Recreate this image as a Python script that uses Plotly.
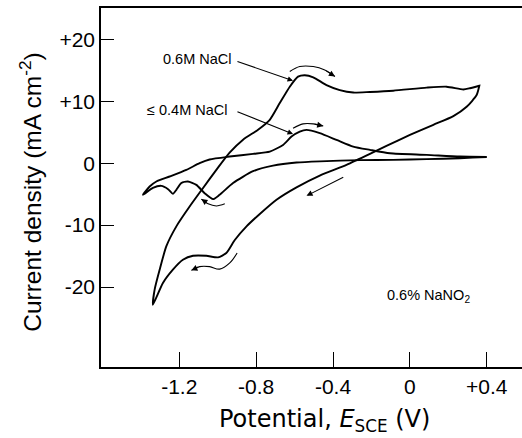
import plotly.graph_objects as go

# ---- data ----
# 0.6 M NaCl cyclic voltammogram: anodic sweep then return sweep
a_x_fwd = [-1.337, -1.328, -1.302, -1.267, -1.215, -1.146, -1.076, -1.007, -0.938, -0.868,
           -0.79, -0.729, -0.677, -0.625, -0.582, -0.547, -0.503, -0.434, -0.365, -0.295,
           -0.208, -0.087, 0.087, 0.191, 0.278, 0.312, 0.361]
a_y_fwd = [-22.85, -20.4, -17.2, -13.4, -10.2, -7.0, -4.0, -1.08, 1.7, 3.8,
           5.4, 7.0, 9.7, 12.35, 13.97, 14.2, 13.87, 12.6, 11.8, 11.4,
           11.5, 11.7, 12.2, 12.35, 11.9, 12.1, 12.5]
a_x_rev = [0.361, 0.347, 0.295, 0.226, 0.122, 0.0, -0.122, -0.208, -0.33, -0.469,
           -0.59, -0.694, -0.781, -0.85, -0.911, -0.955, -0.998, -1.059, -1.128, -1.181,
           -1.233, -1.285, -1.337]
a_y_rev = [12.5, 11.0, 9.1, 7.6, 6.2, 4.56, 2.8, 1.5, -0.27, -2.0,
           -3.9, -5.9, -8.2, -10.2, -12.4, -14.5, -15.2, -14.95, -14.95, -15.6,
           -17.2, -19.35, -22.85]

# <= 0.4 M NaCl cyclic voltammogram
b_x_fwd = [-1.389, -1.354, -1.319, -1.25, -1.163, -1.094, -1.042, -0.938, -0.816, -0.729,
           -0.66, -0.616, -0.573, -0.538, -0.469, -0.382, -0.295, -0.208, -0.104, 0.087,
           0.26, 0.4]
b_y_fwd = [-5.1, -3.77, -2.96, -2.15, -1.08, 0.0, 0.6, 1.07, 1.5, 1.87,
           2.95, 4.3, 5.1, 5.37, 4.84, 3.76, 2.68, 2.15, 1.6, 1.34,
           1.07, 1.0]
b_x_rev = [0.4, 0.26, 0.087, -0.087, -0.26, -0.469, -0.59, -0.712, -0.816, -0.92,
           -0.99, -1.024, -1.068, -1.111, -1.155, -1.189, -1.215, -1.233, -1.258, -1.293,
           -1.337, -1.389]
b_y_rev = [1.0, 0.8, 0.65, 0.53, 0.5, 0.3, 0.1, -0.4, -1.3, -3.2,
           -5.1, -5.8, -4.84, -3.5, -2.96, -3.2, -4.3, -4.95, -4.2, -3.66,
           -4.0, -5.1]

# sweep-direction arrows (curved)
dir1_x = [-0.625, -0.573, -0.503, -0.443, -0.39]
dir1_y = [14.8, 15.6, 15.6, 15.05, 14.0]
dir2_x = [-0.608, -0.556, -0.503, -0.451]
dir2_y = [5.65, 6.34, 6.34, 6.0]
dir3_x = [-0.963, -1.007, -1.05, -1.085]
dir3_y = [-6.56, -6.9, -6.56, -5.8]
dir4_x = [-0.899, -0.937, -0.99, -1.042, -1.094, -1.137]
dir4_y = [-14.5, -16.1, -17.1, -16.7, -16.7, -17.3]
dir5_x = [-0.339, -0.538]
dir5_y = [-2.15, -5.27]

x_tickvals = [-1.2, -0.8, -0.4, 0, 0.4]
x_ticktext = ["-1.2", "-0.8", "-0.4", "0", "+0.4"]
y_tickvals = [20, 10, 0, -10, -20]
y_ticktext = ["+20", "+10", "0", "-10", "-20"]

FONT = "Liberation Sans, Arial, sans-serif"
FONT_X = "DejaVu Sans, sans-serif"
LINE = dict(color="black", width=1.9)
THIN = dict(color="black", width=1.1)

fig = go.Figure()
fig.add_trace(go.Scatter(x=a_x_fwd + a_x_rev, y=a_y_fwd + a_y_rev, mode="lines",
                         line=dict(shape="spline", smoothing=0.6, **LINE), hoverinfo="skip"))
fig.add_trace(go.Scatter(x=b_x_fwd + b_x_rev, y=b_y_fwd + b_y_rev, mode="lines",
                         line=dict(shape="spline", smoothing=0.6, **LINE), hoverinfo="skip"))
for dx, dy in [(dir1_x, dir1_y), (dir2_x, dir2_y), (dir3_x, dir3_y), (dir4_x, dir4_y)]:
    fig.add_trace(go.Scatter(x=dx, y=dy, mode="lines",
                             line=dict(shape="spline", **THIN), hoverinfo="skip"))

annotations = []
# arrowheads on direction curves
for dx, dy in [(dir1_x, dir1_y), (dir2_x, dir2_y), (dir3_x, dir3_y), (dir4_x, dir4_y), (dir5_x, dir5_y)]:
    annotations.append(dict(x=dx[-1], y=dy[-1], ax=dx[-2], ay=dy[-2], xref="x", yref="y",
                            axref="x", ayref="y", text="", showarrow=True, arrowhead=2,
                            arrowsize=1.1, arrowwidth=1.1, arrowcolor="black"))

# labels with pointer arrows
annotations.append(dict(x=-0.608, y=13.3, ax=-0.905, ay=16.5, xref="x", yref="y", axref="x", ayref="y",
                        text="", showarrow=True, arrowhead=2, arrowsize=1, arrowwidth=1.1,
                        arrowcolor="black"))
annotations.append(dict(x=-0.608, y=4.7, ax=-0.905, ay=8.4, xref="x", yref="y", axref="x", ayref="y",
                        text="", showarrow=True, arrowhead=2, arrowsize=1, arrowwidth=1.1,
                        arrowcolor="black"))
annotations.append(dict(x=-1.105, y=16.8, xref="x", yref="y", text="0.6M NaCl", showarrow=False,
                        font=dict(family=FONT, size=14.5, color="black")))
annotations.append(dict(x=-1.16, y=8.6, xref="x", yref="y", text="≤ 0.4M NaCl", showarrow=False,
                        font=dict(family=FONT, size=14.5, color="black")))
annotations.append(dict(x=0.097, y=-21.5, xref="x", yref="y", text="0.6% NaNO<sub>2</sub>",
                        showarrow=False, font=dict(family=FONT, size=14.5, color="black")))

# axis titles
annotations.append(dict(x=-0.168, y=0.486, xref="paper", yref="paper", textangle=-90,
                        text="Current density (mA cm<sup>-2</sup>)", showarrow=False,
                        xanchor="center", yanchor="middle",
                        font=dict(family=FONT, size=24.5, color="black")))
annotations.append(dict(x=0.532, y=-0.148, xref="paper", yref="paper",
                        text="Potential, <i>E</i><sub>SCE</sub> (V)", showarrow=False,
                        xanchor="center", yanchor="middle",
                        font=dict(family=FONT_X, size=24, color="black")))

fig.update_layout(
    width=522, height=438,
    margin=dict(l=101, r=0, t=8, b=71),
    paper_bgcolor="white", plot_bgcolor="white",
    showlegend=False,
    annotations=annotations,
    font=dict(family=FONT, size=21, color="black"),
)
fig.update_xaxes(range=[-1.607, 0.583], showgrid=False, zeroline=False,
                 showline=True, linecolor="black", linewidth=1.5, mirror=True,
                 ticks="inside", ticklen=15, tickwidth=1.3, tickcolor="black",
                 tickvals=x_tickvals, ticktext=x_ticktext,
                 tickfont=dict(family=FONT, size=21, color="black"))
fig.update_yaxes(range=[-32.9, 25.05], showgrid=False, zeroline=False,
                 showline=True, linecolor="black", linewidth=1.5, mirror=False,
                 ticks="inside", ticklen=13, tickwidth=1.3, tickcolor="black",
                 tickvals=y_tickvals, ticktext=y_ticktext,
                 tickfont=dict(family=FONT, size=21, color="black"))

fig.write_html("out.html", config={"displayModeBar": False},
               post_script="document.body.style.margin='0px';")
